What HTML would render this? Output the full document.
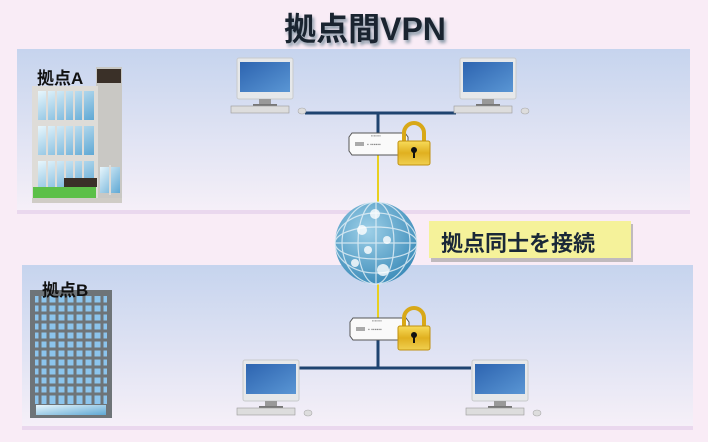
<!DOCTYPE html>
<html><head><meta charset="utf-8"><style>
html,body{margin:0;padding:0}
body{width:708px;height:442px;background:#f9ecf6;position:relative;overflow:hidden;font-family:"Liberation Sans","Noto Sans CJK JP",sans-serif}
.t{position:absolute;font-weight:bold;color:#111}
</style></head><body>
<svg width="708" height="442" style="position:absolute;left:0;top:0">
<defs>
<linearGradient id="pan" x1="0" y1="0" x2="0" y2="1"><stop offset="0" stop-color="#c6d4ee"/><stop offset="1" stop-color="#f6f0f8"/></linearGradient>
<linearGradient id="scr" x1="0" y1="0" x2="1" y2="1"><stop offset="0" stop-color="#2d64b0"/><stop offset="1" stop-color="#5a96d4"/></linearGradient>
<linearGradient id="win" x1="0" y1="0" x2="1" y2="1"><stop offset="0" stop-color="#e8f6fc"/><stop offset="1" stop-color="#5fa8d4"/></linearGradient>
<linearGradient id="lk" x1="0" y1="0" x2="0" y2="1"><stop offset="0" stop-color="#f8dc5a"/><stop offset="0.5" stop-color="#e0b020"/><stop offset="1" stop-color="#f0d050"/></linearGradient>
<radialGradient id="gl" cx="0.4" cy="0.35" r="0.7"><stop offset="0" stop-color="#9ed0e8"/><stop offset="1" stop-color="#3a8ab8"/></radialGradient>
<g id="pc">
<rect x="0" y="0" width="56" height="41" rx="2" fill="#e6e8ea" stroke="#c8cacc"/>
<rect x="3" y="4" width="50" height="30" fill="url(#scr)"/>
<rect x="22" y="41" width="12" height="6" fill="#999"/>
<rect x="16" y="46" width="24" height="2" fill="#777"/>
<rect x="-6" y="48" width="58" height="7" fill="#ddd" stroke="#999" stroke-width="0.6"/>
<ellipse cx="65" cy="53" rx="4" ry="3" fill="#ddd" stroke="#aaa" stroke-width="0.6"/>
</g>
<g id="rt">
<polygon points="3,0 56,0 59,4 59,18 56,22 3,22 0,18 0,4" fill="#fafafa" stroke="#555" stroke-width="1"/>
<rect x="6" y="9" width="9" height="4" fill="#aaa"/>
<text x="18" y="13" font-size="5" fill="#888">▪ ▪▪▪▪▪▪</text>
<text x="22" y="4" font-size="4" fill="#888">▪▪▪▪▪▪▪</text>
</g>
<g id="lock">
<path d="M6,20 V10 A10,10 0 0 1 26,10 V20" fill="none" stroke="#d8a818" stroke-width="4"/>
<rect x="0" y="18" width="32" height="24" rx="2" fill="url(#lk)" stroke="#c09010"/>
<circle cx="16" cy="27" r="3" fill="#111"/><rect x="15" y="27" width="2" height="8" fill="#111"/>
</g>
</defs>
<rect x="17" y="49" width="673" height="164" fill="url(#pan)"/>
<rect x="17" y="210" width="673" height="4" fill="#ead8ee"/>
<rect x="22" y="265" width="671" height="163" fill="url(#pan)"/>
<rect x="22" y="426" width="671" height="4" fill="#ead8ee"/>
<rect x="96" y="67" width="26" height="136" fill="#c9c8c4"/>
<rect x="97" y="69" width="24" height="14" fill="#3a3028"/>
<rect x="32" y="86" width="66" height="117" fill="#dedcd8"/>
<g fill="url(#win)">
<rect x="38" y="91" width="56" height="29"/><rect x="38" y="126" width="56" height="29"/><rect x="38" y="161" width="56" height="27"/>
<rect x="100" y="167" width="20" height="26"/></g>
<g stroke="#dedcd8" stroke-width="2"><line x1="47" y1="88" x2="47" y2="190"/><line x1="56" y1="88" x2="56" y2="190"/><line x1="65" y1="88" x2="65" y2="190"/><line x1="74" y1="88" x2="74" y2="190"/><line x1="83" y1="88" x2="83" y2="190"/><line x1="110" y1="165" x2="110" y2="195"/></g>
<rect x="64" y="178" width="33" height="9" fill="#3a3028"/>
<rect x="33" y="187" width="63" height="11" fill="#5cc048"/>
<rect x="32" y="198" width="90" height="5" fill="#cfccc6"/>
<rect x="30" y="290" width="82" height="128" fill="#6e7478"/>
<rect x="35" y="296" width="72" height="108" fill="#8cc4ec"/>
<g stroke="#6e7478" stroke-width="3">
<line x1="40" y1="294" x2="40" y2="406"/><line x1="48" y1="294" x2="48" y2="406"/><line x1="57" y1="294" x2="57" y2="406"/><line x1="66" y1="294" x2="66" y2="406"/><line x1="75" y1="294" x2="75" y2="406"/><line x1="84" y1="294" x2="84" y2="406"/><line x1="93" y1="294" x2="93" y2="406"/><line x1="102" y1="294" x2="102" y2="406"/>
<line x1="33" y1="304" x2="109" y2="304"/><line x1="33" y1="313" x2="109" y2="313"/><line x1="33" y1="322" x2="109" y2="322"/><line x1="33" y1="331" x2="109" y2="331"/><line x1="33" y1="340" x2="109" y2="340"/><line x1="33" y1="349" x2="109" y2="349"/><line x1="33" y1="358" x2="109" y2="358"/><line x1="33" y1="367" x2="109" y2="367"/><line x1="33" y1="376" x2="109" y2="376"/><line x1="33" y1="385" x2="109" y2="385"/><line x1="33" y1="394" x2="109" y2="394"/></g>
<rect x="36" y="405" width="70" height="10" fill="url(#win)"/>
<line x1="305" y1="113" x2="456" y2="113" stroke="#1f4470" stroke-width="3"/>
<line x1="378" y1="113" x2="378" y2="135" stroke="#1f4470" stroke-width="3"/>
<line x1="378" y1="155" x2="378" y2="320" stroke="#e8d020" stroke-width="2"/>
<line x1="378" y1="340" x2="378" y2="368" stroke="#1f4470" stroke-width="3"/>
<line x1="297" y1="368" x2="471" y2="368" stroke="#1f4470" stroke-width="3"/>
<use href="#pc" x="237" y="58"/><use href="#pc" x="460" y="58"/>
<use href="#pc" x="243" y="360"/><use href="#pc" x="472" y="360"/>
<use href="#rt" x="349" y="133"/><use href="#rt" x="350" y="318"/>
<use href="#lock" x="398" y="123"/><use href="#lock" x="398" y="308"/>
<circle cx="376" cy="243" r="41" fill="url(#gl)"/>
<g fill="none" stroke="#e8f2f8" stroke-width="1.2" opacity="0.8">
<ellipse cx="376" cy="243" rx="18" ry="41"/><ellipse cx="376" cy="243" rx="34" ry="41"/>
<ellipse cx="376" cy="243" rx="41" ry="16"/><ellipse cx="376" cy="243" rx="41" ry="30"/>
<line x1="376" y1="202" x2="376" y2="284"/><line x1="335" y1="243" x2="417" y2="243"/></g>
<g fill="#fff" opacity="0.8"><circle cx="375" cy="214" r="5"/><circle cx="362" cy="230" r="5"/><circle cx="368" cy="250" r="4"/><circle cx="387" cy="240" r="4"/><circle cx="355" cy="263" r="4"/><circle cx="383" cy="270" r="6"/></g>
<rect x="431" y="224" width="202" height="38" fill="#999" opacity="0.6"/>
<rect x="429" y="221" width="202" height="37" fill="#f5f29a"/>
</svg>
<div class="t" style="left:0;width:730px;text-align:center;top:4px;font-size:32px;color:#1a2430;text-shadow:2px 3px 3px #8a9aa8">拠点間VPN</div>
<div class="t" style="left:37px;top:64px;font-size:17px">拠点A</div>
<div class="t" style="left:42px;top:276px;font-size:17px">拠点B</div>
<div class="t" style="left:441px;top:226px;font-size:22px;color:#1a2838">拠点同士を接続</div>
</body></html>
